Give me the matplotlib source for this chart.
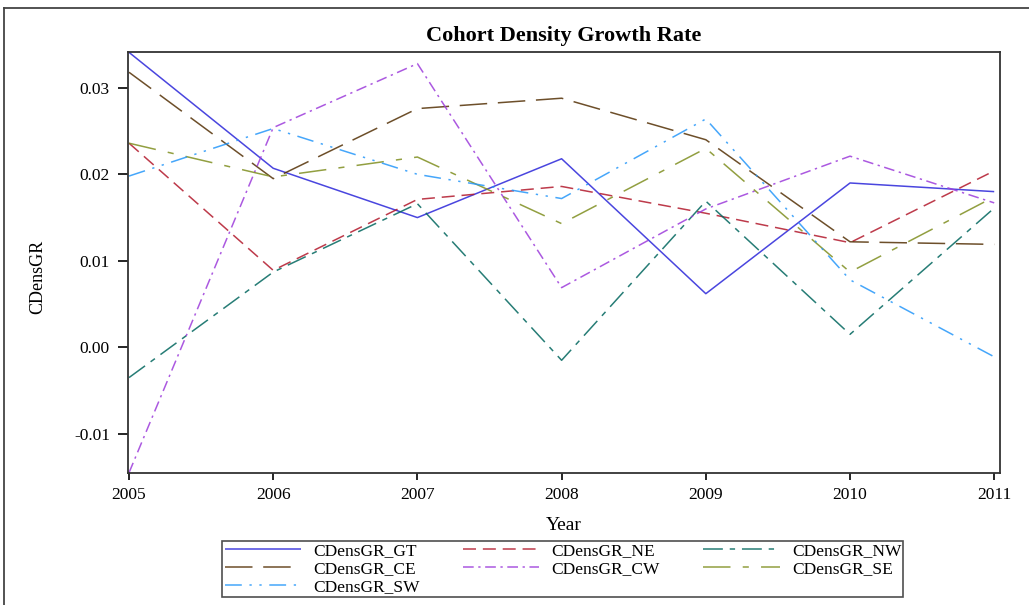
import matplotlib.pyplot as plt
from matplotlib.lines import Line2D

plt.rcParams["font.family"] = ["Liberation Serif", "DejaVu Serif"]

# Data
years = [2005, 2006, 2007, 2008, 2009, 2010, 2011]
gt = [0.0341, 0.0207, 0.0150, 0.0218, 0.0062, 0.0190, 0.0180]
ne = [0.0236, 0.0089, 0.0171, 0.0186, 0.0155, 0.0121, 0.0204]
nw = [-0.0035, 0.0087, 0.0166, -0.0015, 0.0169, 0.0015, 0.0161]
ce = [0.0318, 0.0195, 0.0276, 0.0288, 0.0240, 0.0122, 0.0119]
cw = [-0.0145, 0.0254, 0.0328, 0.0069, 0.0160, 0.0221, 0.0167]
se = [0.0236, 0.0197, 0.0220, 0.0143, 0.0230, 0.0087, 0.0174]
sw = [0.0198, 0.0253, 0.0200, 0.0172, 0.0264, 0.0078, -0.0011]

series = [
    ("CDensGR_GT", gt, "#2A25D9", (0, ())),
    ("CDensGR_NE", ne, "#B2182B", (0, (8.5, 4.5))),
    ("CDensGR_NW", nw, "#01665E", (0, (13, 4.5, 3.5, 4.5))),
    ("CDensGR_CE", ce, "#543005", (0, (18, 7))),
    ("CDensGR_CW", cw, "#9D3CDB", (0, (7, 3, 1.5, 3))),
    ("CDensGR_SE", se, "#7F8E1F", (0, (18, 8, 4, 8))),
    ("CDensGR_SW", sw, "#2597FA", (0, (11, 5, 1.5, 5, 1.5, 5))),
]

fig = plt.figure(figsize=(10.29, 6.05), dpi=100)
ax = fig.add_axes([0.1244, 0.2182, 0.8474, 0.6958])

handles = {}
for name, vals, color, ls in series:
    (ln,) = ax.plot(years, vals, color=color, linestyle=ls, lw=1.1, alpha=0.85)
    handles[name] = ln

ax.set_xlim(2004.993, 2011.04)
ax.set_ylim(-0.01453, 0.03414)
ax.set_xticks(years)
ax.set_yticks([-0.01, 0.0, 0.01, 0.02, 0.03])
ax.set_yticklabels(["-0.01", "0.00", "0.01", "0.02", "0.03"])
ax.tick_params(axis="both", direction="out", labelsize=12.5, width=1.2)
ax.tick_params(axis="y", length=7, pad=6)
ax.tick_params(axis="x", length=5, pad=5)
for s in ax.spines.values():
    s.set_linewidth(1.3)
    s.set_color("#333333")

ax.set_title("Cohort Density Growth Rate", fontsize=16, fontweight="bold", pad=8)
ax.set_xlabel("Year", fontsize=14, labelpad=10)
ax.set_ylabel("CDensGR", fontsize=13)
ax.yaxis.set_label_coords(-0.094, 0.4656)

# legend rows: GT NE NW / CE CW SE / SW
order = ["CDensGR_GT", "CDensGR_CE", "CDensGR_SW",
         "CDensGR_NE", "CDensGR_CW", "CDensGR_NW", "CDensGR_SE"]
leg = fig.legend([handles[k] for k in order], order, ncol=3,
                 loc="lower center", bbox_to_anchor=(0.547, 0.013),
                 borderaxespad=0.0,
                 fontsize=12.5, frameon=True, fancybox=False, edgecolor="#222222",
                 handlelength=4.4, handletextpad=0.7, columnspacing=2.5,
                 labelspacing=0.1, borderpad=0.12)
leg.get_frame().set_linewidth(1.2)

# outer frame lines (top and left)
fig.add_artist(Line2D([4 / 1029, 1], [1 - 8 / 605, 1 - 8 / 605],
                      transform=fig.transFigure, color="#444444", lw=1.3))
fig.add_artist(Line2D([4 / 1029, 4 / 1029], [0, 1 - 8 / 605],
                      transform=fig.transFigure, color="#444444", lw=1.3))

fig.savefig("out.png", dpi=100)
